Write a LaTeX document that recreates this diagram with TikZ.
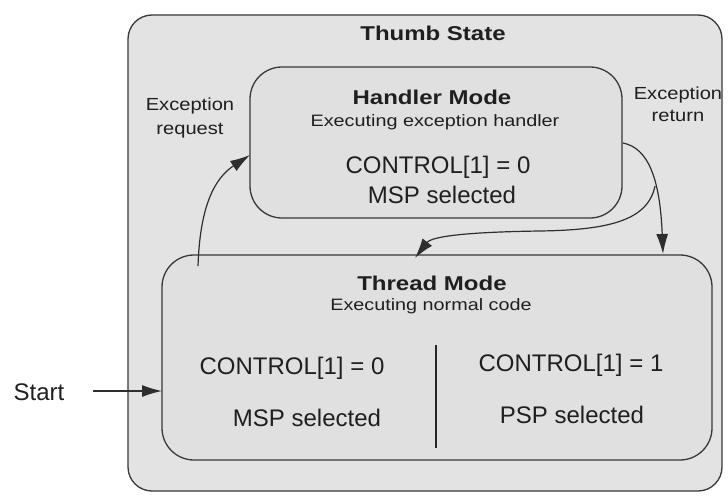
\documentclass[tikz,border=0pt]{standalone}
\usepackage{fontspec}
\setmainfont{Liberation Sans}
\newfontfamily\widesans{Liberation Sans}[FakeStretch=1.2]
\newfontfamily\semiwide{Liberation Sans}[FakeStretch=1.15]
\usetikzlibrary{arrows.meta}
\begin{document}
\begin{tikzpicture}[x=1pt,y=-1pt,
  outerbox/.style={draw=black!78,line width=1.3pt,fill=black!11,rounded corners=24pt},
  modebox/.style={draw=black!78,line width=1.3pt,fill=black!12,rounded corners=32pt},
  flow/.style={draw=black!82,line width=1.2pt,-{Latex[length=20pt,width=12pt]}},
  lbl/.style={font=\semiwide\fontsize{17.5}{24}\selectfont,align=center,text=black!88},
  title/.style={font=\widesans\bfseries\fontsize{20}{24}\selectfont,text=black!88},
  sub/.style={font=\widesans\fontsize{16.5}{20}\selectfont,text=black!88},
  reg/.style={font=\fontsize{24}{28}\selectfont,text=black!88}]
\useasboundingbox (0,0) rectangle (728,497);
% outer state frame
\draw[outerbox] (128,15) rectangle (722,491);
\node[title] (ts) at (433,33) {Thumb State};
% handler mode box
\draw[modebox] (250,67) rectangle (622,218);
\coordinate (hL) at (250,155);
\coordinate (hR) at (623,143);
\node[title] (hm) at (432,97) {Handler Mode};
\node[sub] (he) at (435,122) {Executing exception handler};
\node[reg] (hc) at (438,167) {CONTROL[1] = 0};
\node[reg] (hs) at (442,195) {MSP selected};
% thread mode box
\draw[modebox] (162,255) rectangle (712,460);
\node[title] (tm) at (432,283) {Thread Mode};
\node[sub] (te) at (431,306) {Executing normal code};
\draw[line width=1.3pt,black!85] (436,345) -- (436,448);
\node[reg] (c0) at (292,368) {CONTROL[1] = 0};
\node[reg] (m0) at (307,418) {MSP selected};
\node[reg] (c1) at (571,365) {CONTROL[1] = 1};
\node[reg] (p1) at (572,415) {PSP selected};
\coordinate (tL) at (162,391);
\coordinate (tTop) at (663,254);
\coordinate (tMid) at (415,258);
\coordinate (tReq) at (198,266);
% labels and start
\node[lbl] (er) at (190,118) {Exception\\request};
\node[lbl,font=\semiwide\fontsize{17.5}{22}\selectfont] (eret) at (678,104) {Exception\\return};
\node[reg] (st) at (39,392) {Start};
\coordinate (s0) at (93,391);
% transitions
\draw[flow] (s0) -- (tL);
\draw[flow] (tReq) .. controls (200,205) and (215,178) .. (hL);
\draw[flow] (hR) .. controls (648,148) and (660,178) .. (tTop);
\coordinate (br) at (655,186);
\draw[flow] (br) .. controls (648,220) and (610,230) .. (540,231)
               .. controls (470,232) and (432,236) .. (tMid);
\end{tikzpicture}
\end{document}
